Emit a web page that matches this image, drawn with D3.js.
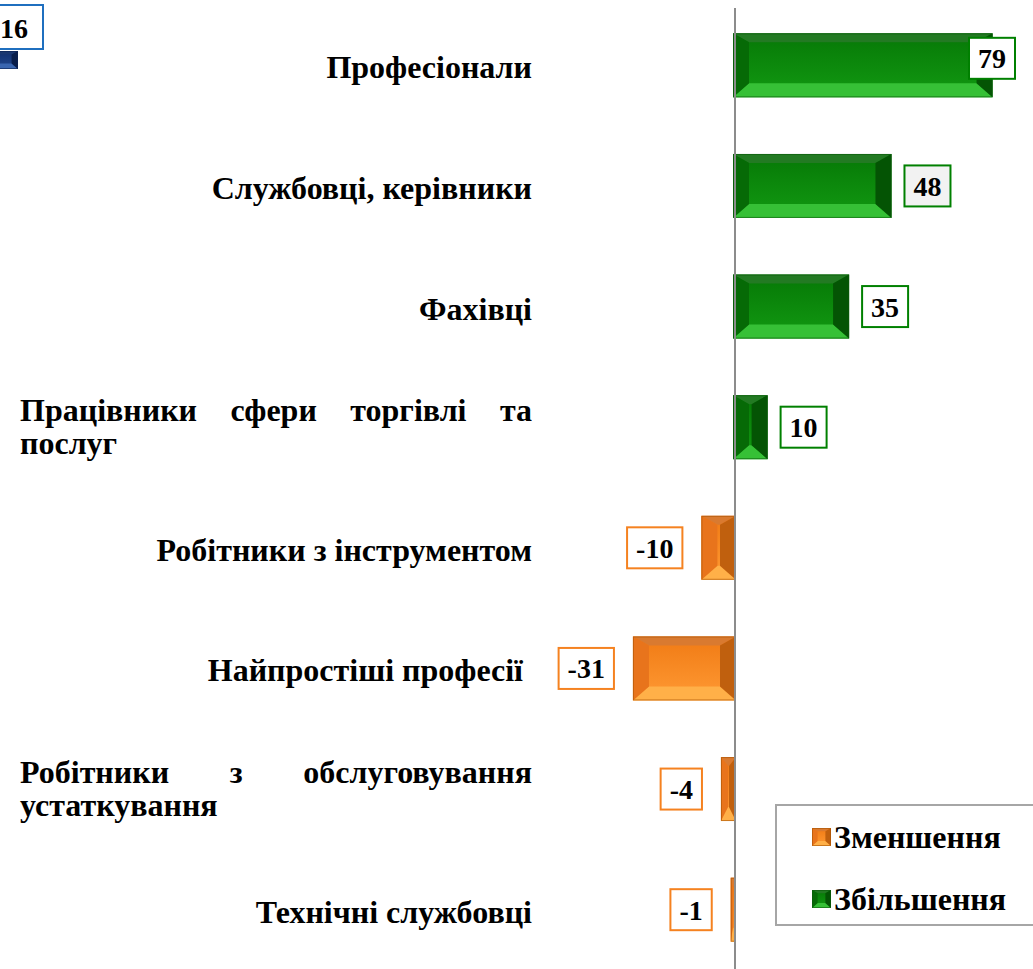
<!DOCTYPE html>
<html><head><meta charset="utf-8">
<script src="https://cdn.jsdelivr.net/npm/d3@7"></script>
<style>html,body{margin:0;padding:0;background:#fff;overflow:hidden}svg{display:block}
text{font-family:"Liberation Serif","Times New Roman",serif;font-weight:bold;fill:#000}</style>
</head><body>
<svg id="c" width="1033" height="969"></svg>
<script>
const categories = [
  "Професіонали",
  "Службовці, керівники",
  "Фахівці",
  "Працівники сфери торгівлі та послуг",
  "Робітники з інструментом",
  "Найпростіші професії",
  "Робітники з обслуговування устаткування",
  "Технічні службовці"
];
const values = [79, 48, 35, 10, -10, -31, -4, -1];
const labelLines = [
  ["Професіонали"],
  ["Службовці, керівники"],
  ["Фахівці"],
  ["Працівники сфери торгівлі та", "послуг"],
  ["Робітники з інструментом"],
  ["Найпростіші професії"],
  ["Робітники з обслуговування", "устаткування"],
  ["Технічні службовці"]
];
const legendLabels = ["Зменшення", "Збільшення"];
const partialValue = [16];

const svg = d3.select("#c");
const defs = svg.append("defs");

const pal = {
  pos: {center:["#067806","#129a12"], top:"#237a23", bottom:"#36c036", left:"#066a06", right:"#045404", stroke:"#0b5a0b", label:"#008000"},
  neg: {center:["#f07a14","#ff9a34"], top:"#d97a30", bottom:"#ffb048", left:"#e8741c", right:"#c0600e", stroke:"#a85200", label:"#f58220"},
  blue:{center:["#102e6e","#23498f"], top:"#1a3770", bottom:"#3a66b0", left:"#0d2a66", right:"#081d4a", stroke:"#0a1f50", label:"#1f6fbf"}
};
Object.entries(pal).forEach(([k,p])=>{
  const g = defs.append("linearGradient").attr("id","g_"+k).attr("x1",0).attr("y1",0).attr("x2",0).attr("y2",1);
  g.append("stop").attr("offset","0%").attr("stop-color",p.center[0]);
  g.append("stop").attr("offset","100%").attr("stop-color",p.center[1]);
});

const x = d3.scaleLinear().domain([0, 100]).range([735, 1061]);
const y = d3.scaleBand().domain(categories).range([5, 970]).paddingInner(0.47).paddingOuter(0.235);

function bevelBar(g, x0, y0, w, h, p, key, scale){
  const s = scale || 1;
  const x1 = x0 + w, y1 = y0 + h;
  const bx = Math.max(0, Math.min(16*s, w/2 - 0.5));
  const bt = 9*s, bb = 14*s;
  const pts = a => a.map(d=>d.join(",")).join(" ");
  g.append("rect").attr("x",x0).attr("y",y0).attr("width",w).attr("height",h)
    .attr("fill","url(#g_"+key+")");
  g.append("polygon").attr("points",pts([[x0,y0],[x1,y0],[x1-bx,y0+bt],[x0+bx,y0+bt]])).attr("fill",p.top);
  g.append("polygon").attr("points",pts([[x0,y1],[x1,y1],[x1-bx,y1-bb],[x0+bx,y1-bb]])).attr("fill",p.bottom);
  g.append("polygon").attr("points",pts([[x0,y0],[x0+bx,y0+bt],[x0+bx,y1-bb],[x0,y1]])).attr("fill",p.left);
  g.append("polygon").attr("points",pts([[x1,y0],[x1-bx,y0+bt],[x1-bx,y1-bb],[x1,y1]])).attr("fill",p.right);
  g.append("rect").attr("x",x0+0.5).attr("y",y0+0.5).attr("width",Math.max(0,w-1)).attr("height",h-1)
    .attr("fill","none").attr("stroke",p.stroke).attr("stroke-width",1).attr("stroke-opacity",0.6);
}

// Category labels (justified block from 20 to 532)
const labL = 20, labR = 532, LFS = 32;
labelLines.forEach((lines, i) => {
  const c = y(categories[i]) + y.bandwidth()/2;
  if (lines.length === 1) {
    svg.append("text").attr("x", i===5 ? 523 : labR).attr("y", c + 13)
      .attr("text-anchor","end").style("font-size",LFS+"px").text(lines[0]);
  } else {
    const words = lines[0].split(" ");
    const tmp = words.map(w => svg.append("text").style("font-size",LFS+"px").text(w));
    const widths = tmp.map(t => t.node().getComputedTextLength());
    const total = d3.sum(widths);
    const gap = (labR - labL - total) / (words.length - 1);
    let cx = labL;
    tmp.forEach((t, k) => { t.attr("x", cx).attr("y", c - 6); cx += widths[k] + gap; });
    svg.append("text").attr("x", labL).attr("y", c + 27).style("font-size",LFS+"px").text(lines[1]);
  }
});

// Bars
const barsG = svg.append("g");
values.forEach((v, i) => {
  const key = v >= 0 ? "pos" : "neg";
  const w = Math.abs(x(v) - x(0)) + 2;
  bevelBar(barsG.append("g"), v >= 0 ? x(0) - 2 : x(v) - 1, y(categories[i]), w, y.bandwidth(), pal[key], key);
});

// Axis line
svg.append("line").attr("x1", x(0)).attr("x2", x(0)).attr("y1", 8).attr("y2", 969)
  .attr("stroke","#8c8c8c").attr("stroke-width",2);

// Value labels
const VFS = 28;
values.forEach((v, i) => {
  const c = y(categories[i]) + y.bandwidth()/2;
  const p = v >= 0 ? pal.pos : pal.neg;
  const g = svg.append("g");
  const r = g.append("rect");
  const t = g.append("text").style("font-size",VFS+"px").attr("text-anchor","middle").text(String(v));
  const tw = t.node().getComputedTextLength();
  const bw = tw + 18, bh = 41;
  let bx = v >= 0 ? x(v) + 13 : x(v) - 20 - bw;
  if (bx + bw > 1015) bx = 1015 - bw;
  const by = c - bh/2 + (i===0 ? -7 : 0);
  r.attr("x",bx).attr("y",by).attr("width",bw).attr("height",bh)
    .attr("fill", i===1 ? "#f2f2f2" : "#fff").attr("stroke",p.label).attr("stroke-width",2);
  t.attr("x", bx + bw/2).attr("y", by + bh/2 + 10);
});

// Partial element at top-left (cut off in original)
(function(){
  const g = svg.append("g");
  bevelBar(g, -60, 51, 78, 18, pal.blue, "blue", 0.4);
  g.append("rect").attr("x",-14).attr("y",5).attr("width",57).attr("height",44)
    .attr("fill","#fff").attr("stroke",pal.blue.label).attr("stroke-width",2);
  g.append("text").attr("x",28).attr("y",38).attr("text-anchor","end")
    .style("font-size",VFS+"px").text(String(partialValue[0]));
})();

// Legend
const lg = svg.append("g");
lg.append("rect").attr("x",776).attr("y",805).attr("width",270).attr("height",120)
  .attr("fill","#fff").attr("stroke","#a6a6a6").attr("stroke-width",2);
legendLabels.forEach((lab, k) => {
  const key = k === 0 ? "neg" : "pos";
  const yy = 828 + k*62;
  bevelBar(lg, 812, yy, 19, 18, pal[key], key, 0.35);
  lg.append("text").attr("x",834).attr("y",yy+20).style("font-size","32px").text(lab);
});
</script>
</body></html>
